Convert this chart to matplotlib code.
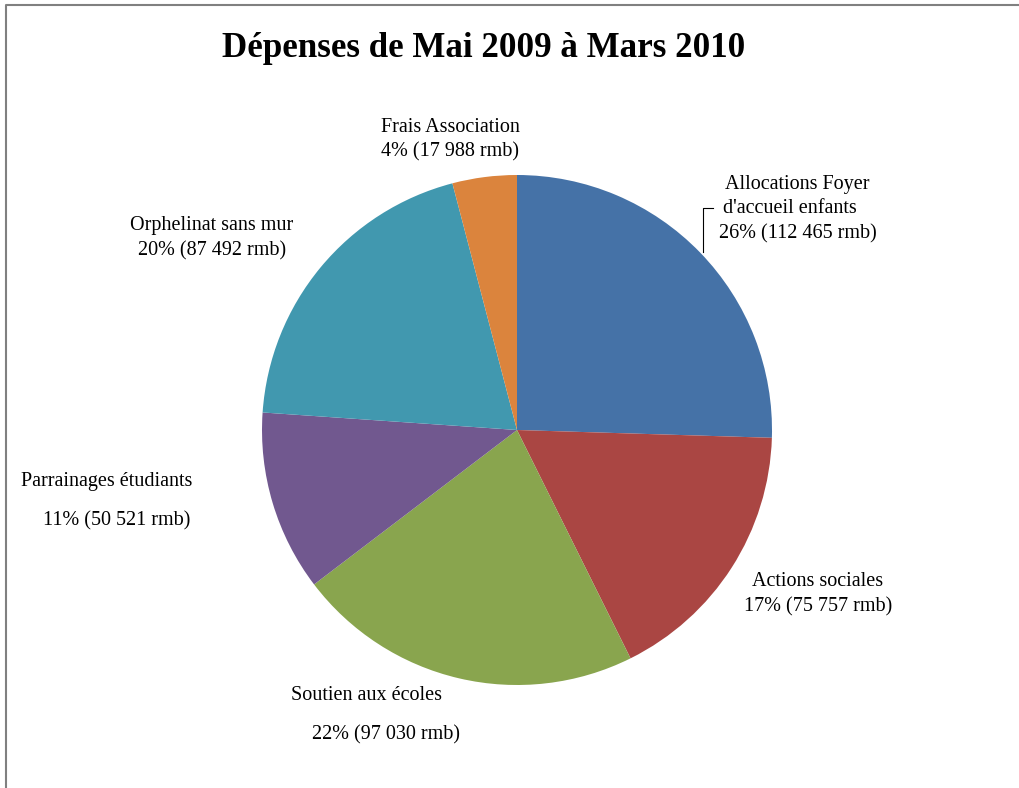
import matplotlib
matplotlib.use('Agg')
import matplotlib.pyplot as plt

# donnees
categories = ['Allocations Foyer\nd\'accueil enfants', 'Actions sociales', 'Soutien aux écoles',
              'Parrainages étudiants', 'Orphelinat sans mur', 'Frais Association']
montants = [112465, 75757, 97030, 50521, 87492, 17988]
pourcents = ['26%', '17%', '22%', '11%', '20%', '4%']
montants_txt = ['112 465', '75 757', '97 030', '50 521', '87 492', '17 988']
colors = ['#4572A7', '#AA4643', '#89A54E', '#71588F', '#4198AF', '#DB843D']

W, H = 1019, 788
fig = plt.figure(figsize=(W / 100, H / 100), dpi=100)
ax = fig.add_axes([0, 0, 1, 1])

plt.rcParams['font.family'] = ['Liberation Serif', 'DejaVu Serif']

ax.pie(montants, colors=colors, startangle=90, counterclock=False,
       center=(517, H - 430), radius=255, frame=True,
       wedgeprops=dict(linewidth=0))
ax.set_xlim(0, W)
ax.set_ylim(0, H)
ax.set_aspect('equal')
ax.axis('off')

# cadre (bord gauche et haut)
ax.plot([6, 6, W], [0, H - 5, H - 5], color='#808080', lw=1.5, solid_capstyle='butt')

ax.text(484, H - 48, 'Dépenses de Mai 2009 à Mars 2010', ha='center', va='center',
        fontsize=25.2, fontweight='bold', family='Liberation Serif')

fs = 14.5
def lab(x, y, s):
    ax.text(x, H - y - 2, s, ha='center', va='center', fontsize=fs, family='Liberation Serif')

# Allocations
lab(797, 182, 'Allocations Foyer')
lab(790, 206, "d'accueil enfants")
lab(798, 232, pourcents[0] + ' (' + montants_txt[0] + ' rmb)')
ax.plot([713, 703, 703], [H - 208, H - 208, H - 252], color='black', lw=0.8)
# Actions sociales
lab(818, 579, categories[1])
lab(818, 605, pourcents[1] + ' (' + montants_txt[1] + ' rmb)')
# Soutien
lab(367, 693, categories[2])
lab(386, 733, pourcents[2] + ' (' + montants_txt[2] + ' rmb)')
# Parrainages
lab(107, 479, categories[3])
lab(117, 519, pourcents[3] + ' (' + montants_txt[3] + ' rmb)')
# Orphelinat
lab(212, 223, categories[4])
lab(212, 249, pourcents[4] + ' (' + montants_txt[4] + ' rmb)')
# Frais
lab(450, 125, categories[5])
lab(450, 150, pourcents[5] + ' (' + montants_txt[5] + ' rmb)')

fig.savefig('out.png', dpi=100, facecolor='white')
